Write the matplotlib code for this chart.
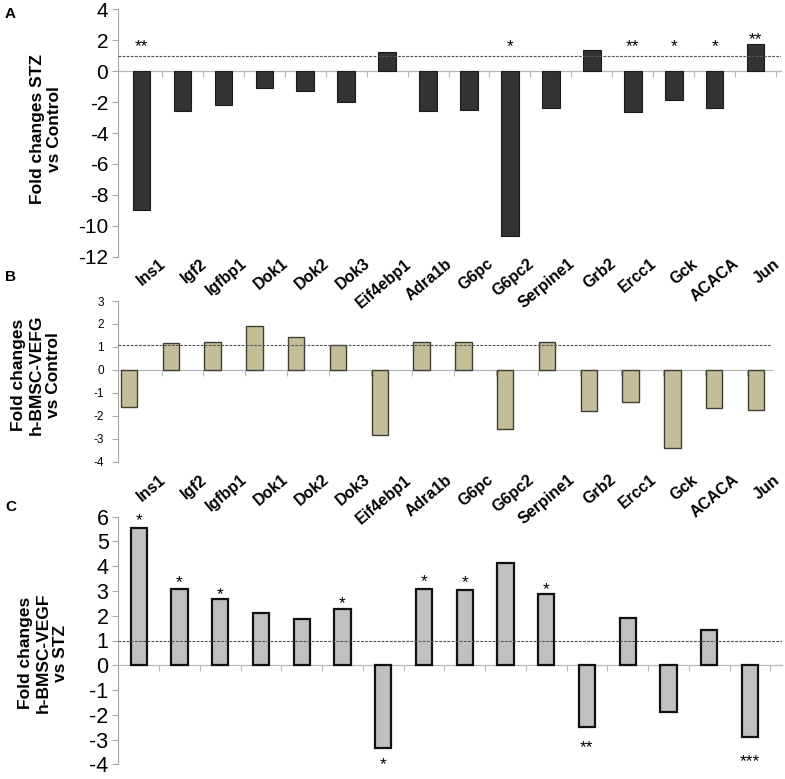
import matplotlib
matplotlib.use('Agg')
import matplotlib.pyplot as plt
from matplotlib.transforms import blended_transform_factory, ScaledTranslation

plt.rcParams['font.family'] = ['Liberation Sans', 'DejaVu Sans']
plt.rcParams['axes.unicode_minus'] = False

genes = ['Ins1', 'Igf2', 'Igfbp1', 'Dok1', 'Dok2', 'Dok3', 'Eif4ebp1', 'Adra1b',
         'G6pc', 'G6pc2', 'Serpine1', 'Grb2', 'Ercc1', 'Gck', 'ACACA', 'Jun']
stz_vs_control = [-9.0, -2.6, -2.2, -1.1, -1.3, -2.0, 1.25, -2.55,
                  -2.5, -10.65, -2.4, 1.4, -2.65, -1.85, -2.35, 1.75]
vegf_vs_control = [-1.63, 1.18, 1.22, 1.93, 1.44, 1.07, -2.83, 1.2,
                   1.2, -2.58, 1.2, -1.77, -1.41, -3.41, -1.65, -1.73]
vegf_vs_stz = [5.55, 3.09, 2.68, 2.1, 1.87, 2.26, -3.34, 3.1,
               3.03, 4.15, 2.88, -2.48, 1.91, -1.9, 1.41, -2.88]

# significance marks: index -> (label, y of mark)
stars_a = {0: ('**', 1.95), 9: ('*', 1.95), 12: ('**', 1.95), 13: ('*', 1.95),
           14: ('*', 1.95), 15: ('**', 2.4)}
stars_c = {0: ('*', 6.05), 1: ('*', 3.55), 2: ('*', 3.06), 5: ('*', 2.7),
           6: ('*', -3.78), 7: ('*', 3.6), 8: ('*', 3.55), 10: ('*', 3.27),
           11: ('**', -3.09), 15: ('***', -3.67)}

ylabel_a = 'Fold changes STZ\nvs Control'
ylabel_b = 'Fold changes\nh-BMSC-VEFG\nvs Control'
ylabel_c = 'Fold changes\nh-BMSC-VEGF\nvs STZ'

W, H = 785, 779
fig = plt.figure(figsize=(W / 100, H / 100), dpi=100)


def rect(x0, y0, x1, y1):
    return [x0 / W, 1 - y1 / H, (x1 - x0) / W, (y1 - y0) / H]


axA = fig.add_axes(rect(118, 9.5, 781, 256.7))
axB = fig.add_axes(rect(118, 301, 771.7, 461.7))
axC = fig.add_axes(rect(118.3, 516.7, 781.7, 764.3))

n = len(genes)
x = list(range(n))

AX_GREY = '#a6a6a6'


def style(ax, ylim, yticks, fs, xlim, tickpos, ref):
    ax.set_xlim(*xlim)
    ax.set_ylim(*ylim)
    ax.set_yticks(yticks)
    ax.tick_params(axis='y', labelsize=fs, length=4, color=AX_GREY, width=0.8, pad=3)
    for s in ['top', 'right']:
        ax.spines[s].set_visible(False)
    ax.spines['left'].set_color(AX_GREY)
    ax.spines['left'].set_linewidth(0.8)
    ax.spines['bottom'].set_position(('data', 0))
    ax.spines['bottom'].set_color('#b8b8b8')
    ax.spines['bottom'].set_linewidth(0.9)
    ax.set_xticks(tickpos)
    ax.set_xticklabels([])
    ax.tick_params(axis='x', length=4, color='#b8b8b8', width=0.8, direction='out')
    ax.axhline(ref, color='#555555', lw=0.8, ls=(0, (2.5, 1.2)), zorder=4)
    ax.patch.set_alpha(0)


def put_stars(ax, stars, xs, fs=12.5):
    off = ScaledTranslation(0, -0.57 * fs / 72, fig.dpi_scale_trans)
    for i, (lab, yv) in stars.items():
        ax.text(xs[i], yv, lab, ha='center', va='baseline', fontsize=fs,
                transform=ax.transData + off, zorder=5)


# Panel A
axA.bar(x, stz_vs_control, width=0.43, color='#333333', edgecolor='#1a1a1a',
        linewidth=0.8, zorder=3)
style(axA, (-12, 4), list(range(-12, 5, 2)), 15, (-0.574, 15.62),
      [i + 0.5 for i in range(n)], 1.0)
put_stars(axA, stars_a, x)

# Panel B (bars shifted left inside their category)
axB.bar(x, vegf_vs_control, width=0.39, color='#c4bd97', edgecolor='#3f3f33',
        linewidth=1.0, zorder=3)
style(axB, (-4, 3), list(range(-4, 4)), 8.5, (-0.263, 15.375),
      [i + 0.78 for i in range(n - 1)], 1.1)
axB.tick_params(axis='y', pad=6)

# Panel C
axC.bar(x, vegf_vs_stz, width=0.40, color='#c0c0c0', edgecolor='#111111',
        linewidth=1.6, zorder=3)
style(axC, (-4, 6), list(range(-4, 7)), 15.5, (-0.5, 15.78),
      [i + 0.5 for i in range(n)], 1.0)
put_stars(axC, stars_c, x)

# Category labels under panels A and B
for ax in (axA, axB):
    trans = blended_transform_factory(axA.transData, ax.transAxes)
    dy = -5 if ax is axA else -16
    off = ScaledTranslation(22 / 100, dy / 100, fig.dpi_scale_trans)
    for i, g in enumerate(genes):
        ax.text(i, 0, g, transform=trans + off, rotation=40, rotation_mode='anchor',
                ha='right', va='center', fontsize=11.5, fontweight='bold',
                clip_on=False)

# y labels
for (cx, cy, lab) in [(46, 129, ylabel_a), (36, 375, ylabel_b), (43, 653, ylabel_c)]:
    fig.text(cx / W, 1 - cy / H, lab, rotation=90, ha='center', va='center',
             multialignment='center', fontsize=12.5, fontweight='bold')

# panel letters
for (px, py, lab) in [(5, 7, 'A'), (5, 270, 'B'), (5, 500, 'C')]:
    fig.text(px / W, 1 - py / H, lab, ha='left', va='top', fontsize=11,
             fontweight='bold')

fig.savefig('out.png', dpi=100)
